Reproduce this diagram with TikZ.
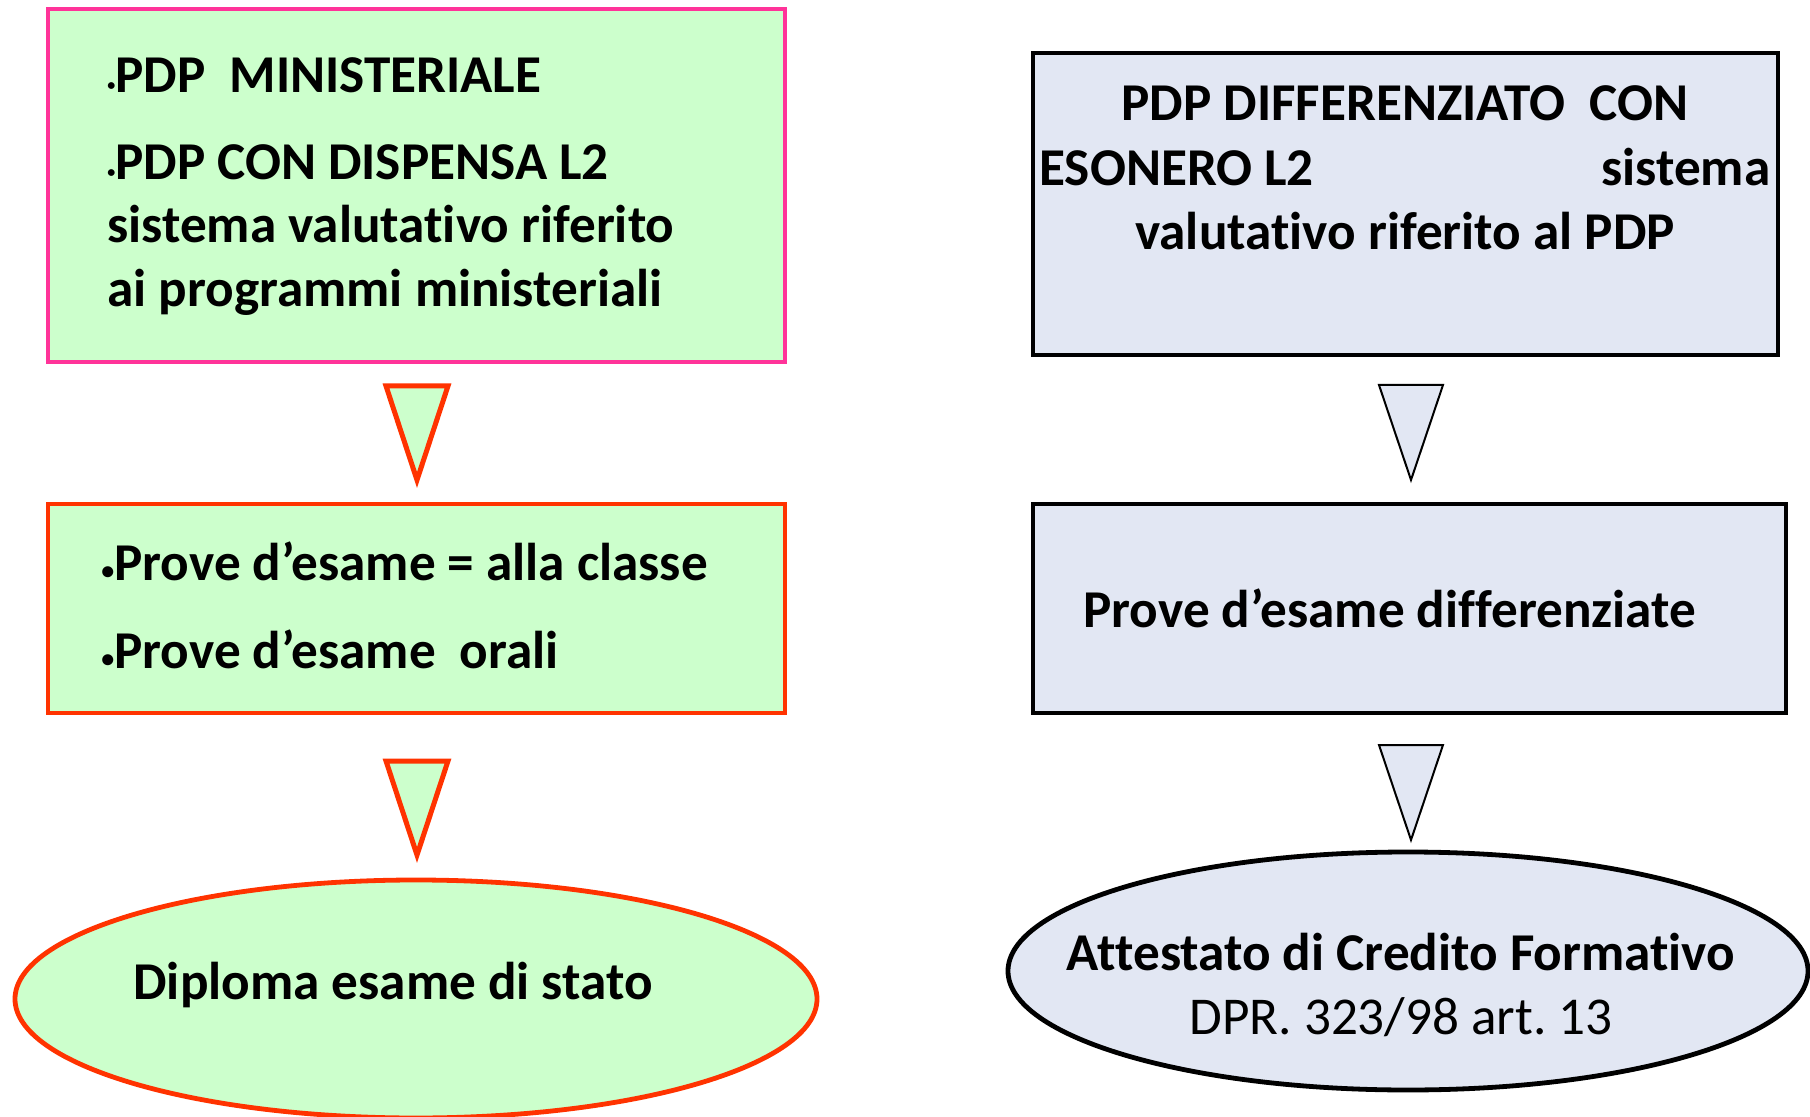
\documentclass[tikz,border=0pt]{standalone}
\usepackage{fontspec}
\setmainfont[Ligatures=NoCommon]{Carlito}
\usetikzlibrary{shapes.geometric}
\definecolor{lgreen}{HTML}{CCFFCC}
\definecolor{lblue}{HTML}{E2E7F3}
\definecolor{pinkb}{HTML}{FF3399}
\definecolor{redb}{HTML}{FF3300}
\newcommand\tinybul{{\fontsize{8}{8}\selectfont\raisebox{1.2pt}{•}}}
\newcommand\midbul{{\fontsize{13}{13}\selectfont\raisebox{0.3pt}{•}}}
\frenchspacing
\begin{document}
\begin{tikzpicture}[x=0.5pt,y=-0.5pt,
  txt/.style={inner sep=0pt, font=\fontsize{26.6}{32}\bfseries\selectfont},
  regtxt/.style={inner sep=0pt, font=\fontsize{26.6}{32}\selectfont},
  box/.style={rectangle, inner sep=0pt, line width=2.3pt},
  greenbox/.style={box, fill=lgreen},
  bluebox/.style={box, fill=lblue, draw=black},
  oval/.style={ellipse, inner sep=0pt, line width=2.4pt, minimum width=#1},
  redtri/.style={fill=lgreen, draw=redb, line width=2.5pt, line join=miter},
  blacktri/.style={fill=lblue, draw=black, line width=1pt, line join=miter}]
\useasboundingbox (0,0) rectangle (1810,1117);

% boxes
\node[greenbox, draw=pinkb, minimum width=368.5pt, minimum height=176.5pt] (b1) at (416.5,185.5) {};
\node[bluebox, minimum width=372.5pt, minimum height=151pt] (b2) at (1405.5,204) {};
\node[greenbox, draw=redb, minimum width=368.5pt, minimum height=104.5pt] (b3) at (416.5,608.5) {};
\node[bluebox, minimum width=376.5pt, minimum height=104.5pt] (b4) at (1409.5,608.5) {};
\node[oval=401pt, minimum height=119pt, fill=lgreen, draw=redb] (e1) at (416,999) {};
\node[oval=400pt, minimum height=119pt, fill=lblue, draw=black] (e2) at (1408,971) {};

% triangle connectors
\draw[redtri] (386,386) -- (448,386) -- (417,480) -- cycle;
\draw[redtri] (386,761) -- (448,761) -- (417,855) -- cycle;
\draw[blacktri] (1379,385) -- (1443,385) -- (1411,480) -- cycle;
\draw[blacktri] (1379,745) -- (1443,745) -- (1411,840) -- cycle;

% texts
\node[txt, anchor=base west] (t1a) at (107,93) {\tinybul PDP\ \ MINISTERIALE};
\node[txt, anchor=base west] (t1b) at (107,180) {\tinybul PDP CON DISPENSA L2};
\node[txt, anchor=base west] (t1c) at (107,243) {sistema valutativo riferito};
\node[txt, anchor=base west] (t1d) at (107,307) {ai programmi ministeriali};

\node[txt, anchor=base] (t2a) at (1405,121) {PDP DIFFERENZIATO\ \ CON};
\node[txt, anchor=base west] (t2b) at (1039,186) {\hbox to 365.5pt{ESONERO L2\hfill sistema}};
\node[txt, anchor=base] (t2c) at (1405,250) {valutativo riferito al PDP};

\node[txt, anchor=base west] (t3a) at (101,580) {\midbul Prove d’esame = alla classe};
\node[txt, anchor=base west] (t3b) at (101,668) {\midbul Prove d’esame\ \ orali};

\node[txt, anchor=base west] (t4) at (1083,627) {Prove d’esame differenziate};

\node[txt, anchor=base west] (t5) at (133,999) {Diploma esame di stato};

\node[txt, anchor=base] (t6a) at (1401,970) {Attestato di Credito Formativo};
\node[regtxt, anchor=base] (t6b) at (1401,1034) {DPR. 323/98 art. 13};
\end{tikzpicture}
\end{document}
